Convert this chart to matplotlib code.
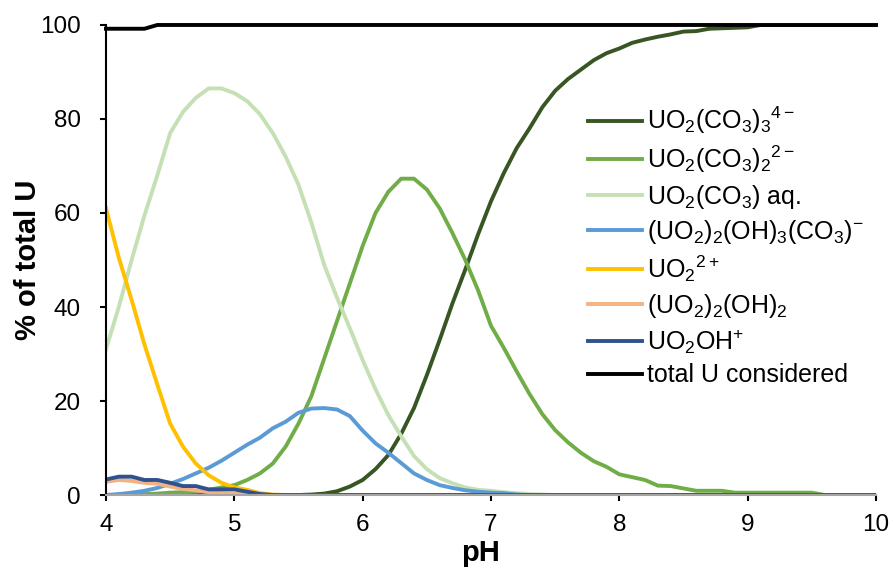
import numpy as np
import matplotlib
matplotlib.use('Agg')
import matplotlib.pyplot as plt

plt.rcParams['font.family'] = ['Liberation Sans', 'DejaVu Sans']
plt.rcParams['mathtext.fontset'] = 'custom'
plt.rcParams['mathtext.rm'] = 'Liberation Sans'
plt.rcParams['mathtext.it'] = 'Liberation Sans:italic'
plt.rcParams['mathtext.bf'] = 'Liberation Sans:bold'

# pH grid, 0.1 steps from 4 to 10
pH = np.round(np.arange(4.0, 10.01, 0.1), 1)

tri = [0] * 16 + [0.1, 0.3, 0.8, 1.8, 3.2, 5.5, 8.5, 13, 18.5, 25.5,
                  33, 40.8, 48, 55.5, 62.5, 68.5, 73.8, 78, 82.5, 86,
                  88.5, 90.5, 92.5, 94, 95, 96.2, 96.9, 97.5, 98, 98.6,
                  98.7, 99.2, 99.3, 99.4, 99.5] + [100] * 10
di = [0, 0, 0.1, 0.2, 0.3, 0.5, 0.6, 0.7, 1.1, 1.6,
      2.1, 3.2, 4.6, 6.7, 10.3, 15.2, 21, 29, 37, 45,
      53, 60, 64.5, 67.3, 67.3, 65, 61, 55.7, 50, 43.5,
      36, 31.3, 26.3, 21.5, 17.2, 13.8, 11.2, 9, 7.2, 6,
      4.4, 3.8, 3.2, 2.0, 1.9, 1.4, 0.9, 0.9, 0.9, 0.5,
      0.5, 0.5, 0.5, 0.5, 0.5, 0.5] + [0] * 5
mono = [31, 40, 50, 59.5, 68, 77, 81.5, 84.5, 86.5, 86.5,
        85.5, 83.8, 81, 77, 72, 66, 58, 49, 42, 35.5,
        28.7, 22.5, 17, 12.5, 8.3, 5.5, 3.6, 2.5, 1.6, 1.1,
        0.9, 0.6, 0.4, 0.2, 0.1] + [0] * 26
oh3co3 = [0, 0.2, 0.5, 0.9, 1.5, 2.4, 3.4, 4.6, 5.8, 7.3,
          9, 10.7, 12.2, 14.2, 15.6, 17.5, 18.4, 18.5, 18.2, 16.8,
          13.7, 11, 9, 6.8, 4.6, 3.2, 2.1, 1.5, 1.0, 0.7,
          0.5, 0.4, 0.1] + [0] * 28
uo2 = [61, 50.5, 41.5, 32, 23.5, 15.2, 10.3, 6.7, 4.2, 2.6,
       1.6, 1.1, 0.4, 0.1] + [0] * 47
oh2 = [2.8, 3.2, 3.0, 2.6, 2.4, 1.8, 1.3, 1.0, 0.6, 0.4,
       0.3, 0.2, 0.1] + [0] * 48
uo2oh = [3.3, 3.9, 3.9, 3.2, 3.2, 2.6, 1.9, 1.9, 1.2, 1.2,
         1.2, 0.7, 0.2] + [0] * 48
total = [99.2, 99.2, 99.2, 99.2] + [100] * 57

fig = plt.figure(figsize=(8.95, 5.73), dpi=100)
ax = fig.add_axes([0.1184, 0.1361, 0.8604, 0.8203])

lw = 2.8
ax.plot(pH, tri, color='#375623', lw=lw, label=r'UO$_2$(CO$_3$)$_3$$^{4-}$')
ax.plot(pH, di, color='#70AD47', lw=lw, label=r'UO$_2$(CO$_3$)$_2$$^{2-}$')
ax.plot(pH, mono, color='#C5E0B4', lw=lw, label=r'UO$_2$(CO$_3$) aq.')
ax.plot(pH, oh3co3, color='#5B9BD5', lw=lw, label=r'(UO$_2$)$_2$(OH)$_3$(CO$_3$)$^{-}$')
ax.plot(pH, uo2, color='#FFC000', lw=lw, label=r'UO$_2$$^{2+}$')
ax.plot(pH, oh2, color='#F4B183', lw=lw, label=r'(UO$_2$)$_2$(OH)$_2$')
ax.plot(pH, uo2oh, color='#2F528F', lw=lw, label=r'UO$_2$OH$^{+}$')
ax.plot(pH, total, color='black', lw=lw, label='total U considered', clip_on=False)

ax.set_xlim(4, 10)
ax.set_ylim(0, 100)
ax.set_xticks([4, 5, 6, 7, 8, 9, 10])
ax.set_yticks([0, 20, 40, 60, 80, 100])
ax.tick_params(axis='both', labelsize=17.5, direction='out', length=4, width=1.5, colors='black')
ax.tick_params(axis='x', pad=10)
ax.tick_params(axis='y', pad=14)
for s in ['top', 'right']:
    ax.spines[s].set_visible(False)
ax.spines['left'].set_linewidth(1.5)
ax.spines['bottom'].set_linewidth(1.5)
ax.spines['bottom'].set_color('#A6A6A6')

ax.set_xlabel('pH', fontsize=21, fontweight='bold')
ax.set_ylabel('% of total U', fontsize=21, fontweight='bold')
ax.xaxis.set_label_coords(0.486, -0.093)
ax.yaxis.set_label_coords(-0.083, 0.5)

ax.legend(loc='upper left', bbox_to_anchor=(0.626, 0.83), frameon=False,
          fontsize=18, handlelength=2.15, handletextpad=0.2, labelspacing=0.3,
          borderaxespad=0, borderpad=0)

fig.savefig('out.png', dpi=100)
